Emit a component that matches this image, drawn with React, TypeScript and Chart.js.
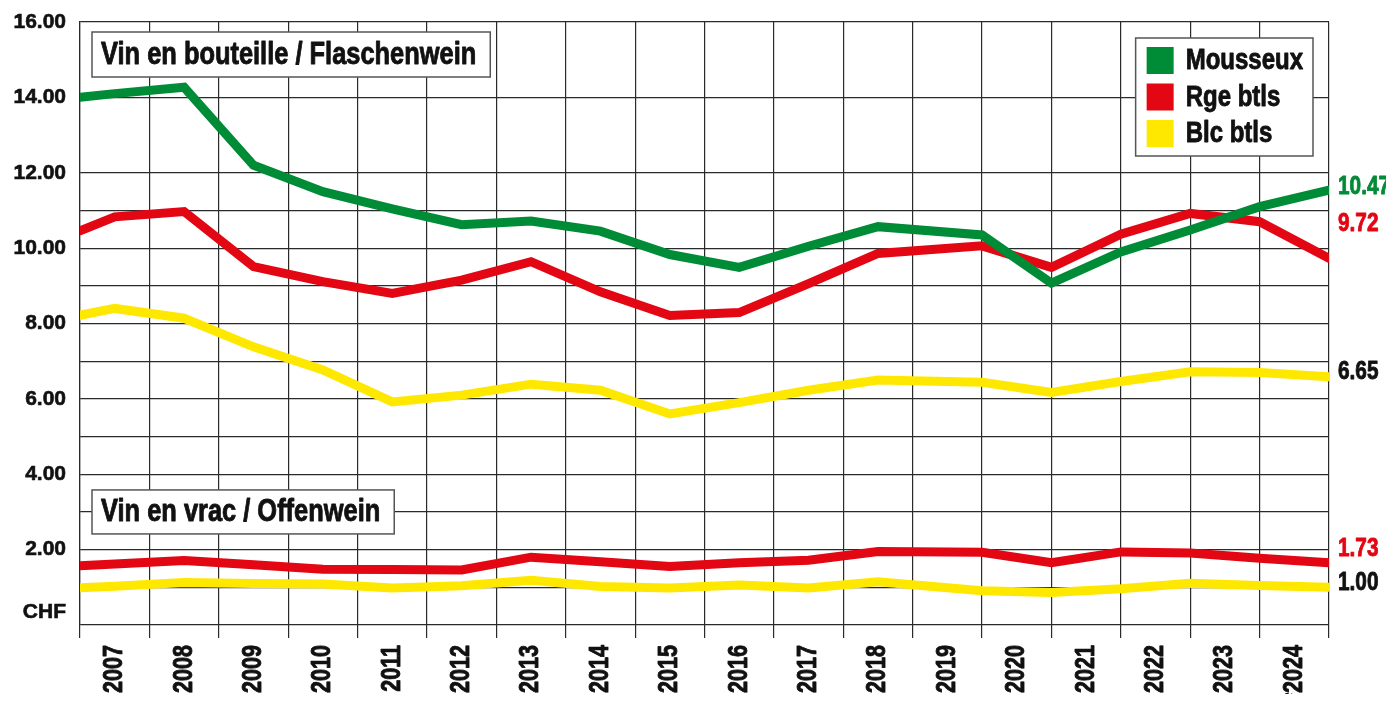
import React, { useEffect, useRef } from "react";
import { Chart, registerables } from "chart.js";

Chart.register(...registerables);

// ---------- data ----------
const years = ["2007", "2008", "2009", "2010", "2011", "2012", "2013", "2014", "2015", "2016", "2017", "2018", "2019", "2020", "2021", "2022", "2023", "*2024"];
// position of each plotted point on the year axis (index of the year column; .5 = between two columns)
const pointPositions = [-0.5, 0, 1, 2, 3, 4, 5, 6, 7, 8, 9, 10, 11, 12.5, 13.5, 14.5, 15.5, 16.5, 17.5];

const mousseux = [14.0, 14.1, 14.27, 12.2, 11.5, 11.04, 10.62, 10.72, 10.45, 9.83, 9.49, 10.05, 10.57, 10.35, 9.07, 9.9, 10.48, 11.1, 11.54];
const rougeBtls = [10.46, 10.83, 10.97, 9.51, 9.11, 8.8, 9.15, 9.64, 8.84, 8.21, 8.29, 9.06, 9.86, 10.06, 9.49, 10.37, 10.92, 10.7, 9.73];
const blancBtls = [8.22, 8.4, 8.14, 7.38, 6.77, 5.92, 6.1, 6.39, 6.23, 5.6, 5.9, 6.23, 6.5, 6.44, 6.17, 6.46, 6.72, 6.7, 6.59];
const rougeVrac = [1.57, 1.62, 1.71, 1.6, 1.48, 1.47, 1.46, 1.8, 1.68, 1.55, 1.65, 1.72, 1.95, 1.93, 1.65, 1.94, 1.91, 1.77, 1.65];
const blancVrac = [0.99, 1.03, 1.13, 1.1, 1.09, 0.98, 1.04, 1.19, 1.02, 0.98, 1.06, 0.98, 1.15, 0.91, 0.86, 0.96, 1.11, 1.05, 1.0];

const legendLabels = ["Mousseux", "Rge btls", "Blc btls"];
const sectionTitles = ["Vin en bouteille / Flaschenwein", "Vin en vrac / Offenwein"];
const endLabelTexts = ["10.47", "9.72", "6.65", "1.73", "1.00"];
const unitLabel = "CHF";

// ---------- styles ----------
const GREEN = "#008C37";
const RED = "#E30613";
const YELLOW = "#FFE800";
const GRID = "#2a2a2a";
const WIDE = '"Liberation Sans", Arial, sans-serif';

const toPoints = (vals: number[]) => vals.map((v, i) => ({ x: pointPositions[i], y: v }));

const endLabelAnchors = [11.62, 10.64, 6.72, 2.03, 1.11];
const endLabelColors = [GREEN, RED, "#111", RED, "#111"];

// condensed bold text (horizontally compressed Liberation Sans Bold)
function narrowWidth(ctx: CanvasRenderingContext2D, text: string, size: number, sx: number) {
  ctx.save();
  ctx.font = `bold ${size}px ${WIDE}`;
  const w = ctx.measureText(text).width * sx;
  ctx.restore();
  return w;
}
function drawNarrow(
  ctx: CanvasRenderingContext2D,
  text: string,
  x: number,
  y: number,
  size: number,
  sx: number,
  color: string,
  align: CanvasTextAlign = "left",
  rotate = 0
) {
  ctx.save();
  ctx.translate(x, y);
  if (rotate) ctx.rotate(rotate);
  ctx.scale(sx, 1);
  ctx.font = `bold ${size}px ${WIDE}`;
  ctx.fillStyle = color;
  ctx.strokeStyle = color;
  ctx.lineWidth = 0.9;
  ctx.lineJoin = "round";
  ctx.textAlign = align;
  ctx.textBaseline = "middle";
  ctx.fillText(text, 0, 0);
  ctx.strokeText(text, 0, 0);
  ctx.restore();
}

function drawTextBox(ctx: CanvasRenderingContext2D, x: number, cy: number, h: number, text: string) {
  const tw = narrowWidth(ctx, text, 31, 0.82);
  const w = tw + 23;
  ctx.fillStyle = "#fff";
  ctx.fillRect(x, cy - h / 2, w, h);
  ctx.strokeStyle = "#555";
  ctx.lineWidth = 1.5;
  ctx.strokeRect(x, cy - h / 2, w, h);
  drawNarrow(ctx, text, x + 9, cy + 1, 31, 0.82, "#111");
}

const overlayPlugin = {
  id: "overlay",
  afterDraw(chart: any) {
    const { ctx, chartArea } = chart;
    const y = chart.scales.y;
    const x = chart.scales.x;
    ctx.save();

    // year labels
    years.forEach((t, i) => {
      drawNarrow(ctx, t, x.getPixelForValue(i), chartArea.bottom + 20, 27, 0.8, "#111", "right", -Math.PI / 2);
    });

    // section titles
    drawTextBox(ctx, chartArea.left + 12, chartArea.top + 32.5, 45, sectionTitles[0]);
    drawTextBox(ctx, chartArea.left + 12, y.getPixelForValue(3), 44, sectionTitles[1]);

    // legend
    const maxW = Math.max(...legendLabels.map((t) => narrowWidth(ctx, t, 30, 0.8)));
    const boxW = 11 + 27 + 12 + maxW + 10;
    const boxH = 118;
    const bx = chartArea.right - 16 - boxW;
    const by = chartArea.top + 16;
    ctx.fillStyle = "#fff";
    ctx.fillRect(bx, by, boxW, boxH);
    ctx.strokeStyle = "#555";
    ctx.lineWidth = 1.5;
    ctx.strokeRect(bx, by, boxW, boxH);
    const colors = [GREEN, RED, YELLOW];
    legendLabels.forEach((t, i) => {
      const sy = by + 9 + i * 36.5;
      ctx.fillStyle = colors[i];
      ctx.fillRect(bx + 11, sy, 27, 27);
      drawNarrow(ctx, t, bx + 11 + 27 + 12, sy + 14, 30, 0.8, "#111");
    });

    // end value labels
    endLabelTexts.forEach((t, i) => {
      drawNarrow(ctx, t, chartArea.right + 9, y.getPixelForValue(endLabelAnchors[i]), 26, 0.8, endLabelColors[i]);
    });

    // unit label
    ctx.font = `bold 21px ${WIDE}`;
    ctx.fillStyle = "#111";
    ctx.strokeStyle = "#111";
    ctx.lineWidth = 0.6;
    ctx.textAlign = "right";
    ctx.textBaseline = "middle";
    ctx.fillText(unitLabel, chartArea.left - 14, y.getPixelForValue(0.35));
    ctx.strokeText(unitLabel, chartArea.left - 14, y.getPixelForValue(0.35));
    ctx.restore();
  },
};

export default function App() {
  const ref = useRef<HTMLCanvasElement>(null);
  useEffect(() => {
    const lineDs = (label: string, data: number[], color: string) => ({
      label,
      data: toPoints(data),
      borderColor: color,
      backgroundColor: color,
      borderWidth: 9,
      pointRadius: 0,
      tension: 0,
      borderCapStyle: "round" as const,
      borderJoinStyle: "miter" as const,
      xAxisID: "xp",
      yAxisID: "y",
      fill: false,
    });
    const chart = new Chart(ref.current!, {
      type: "line",
      data: {
        labels: years,
        datasets: [
          lineDs(legendLabels[0], mousseux, GREEN),
          lineDs(legendLabels[1], rougeBtls, RED),
          lineDs(legendLabels[2], blancBtls, YELLOW),
          lineDs(legendLabels[1] + " vrac", rougeVrac, RED),
          lineDs(legendLabels[2] + " vrac", blancVrac, YELLOW),
        ],
      },
      options: {
        responsive: false,
        animation: false,
        layout: { padding: { top: 14, right: 57, left: 0, bottom: 0 } },
        plugins: { legend: { display: false }, tooltip: { enabled: false }, title: { display: false } },
        scales: {
          x: {
            type: "category",
            position: "bottom",
            offset: true,
            grid: { offset: true, color: GRID, lineWidth: 1.2, tickLength: 13, drawTicks: true, tickColor: GRID },
            border: { display: false },
            ticks: { display: false, autoSkip: false },
            afterFit: (s: any) => {
              s.height = 69;
              s.paddingLeft = 0;
              s.paddingRight = 0;
            },
          },
          xp: {
            type: "linear",
            display: false,
            min: -0.5,
            max: 17.5,
          },
          y: {
            type: "linear",
            position: "left",
            min: 0,
            max: 16,
            grid: {
              drawTicks: false,
              lineWidth: 1.2,
              color: (c: any) => (c.tick && (c.tick.value === 13 || c.tick.value === 15) ? "rgba(0,0,0,0)" : GRID),
            },
            border: { display: true, color: GRID, width: 1.2 },
            ticks: {
              stepSize: 1,
              autoSkip: false,
              padding: 14,
              color: "#111",
              textStrokeColor: "#111",
              textStrokeWidth: 0.6,
              font: { family: WIDE, weight: "bold", size: 21 },
              callback: (v: any) => (v > 0 && v % 2 === 0 ? Number(v).toFixed(2) : ""),
            },
            afterFit: (s: any) => {
              s.width = 72;
              s.paddingTop = 0;
              s.paddingBottom = 0;
            },
          },
        },
      },
      plugins: [overlayPlugin],
    });
    return () => chart.destroy();
  }, []);
  return (
    <div style={{ width: 1378, height: 686 }}>
      <canvas ref={ref} width={1378} height={686} style={{ display: "block" }} />
    </div>
  );
}
